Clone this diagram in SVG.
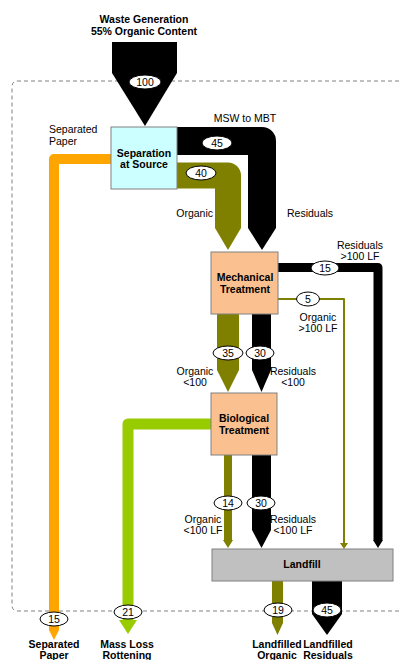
<svg xmlns="http://www.w3.org/2000/svg" width="399" height="660" viewBox="0 0 399 660">
<style>
text{font-family:"Liberation Sans",Arial,sans-serif;font-size:10.5px;fill:#000;text-anchor:middle}
.b{font-weight:bold}
.s{text-anchor:start}
.e{text-anchor:end}
.box{stroke:#808080;stroke-width:1}
.band{fill:none;stroke-linejoin:round;stroke-linecap:butt}
.k{stroke:#000}
.ol{stroke:#808000}
.or{stroke:#ffa500}
.gr{stroke:#99cc00}
.fk{fill:#000}
.fol{fill:#808000}
.for{fill:#ffa500}
.fgr{fill:#99cc00}
.ov{fill:#fff;stroke:#000;stroke-width:1}
</style>
<rect width="399" height="660" fill="#fff"/>
<path d="M399,81 H18 Q12,81 12,87 V605 Q12,611 18,611 H399" fill="none" stroke="#808080" stroke-width="1" stroke-dasharray="4 3"/>

<g id="connectors">
  <!-- waste generation input -->
  <rect x="112" y="42" width="65" height="31" class="fk"/>
  <polygon points="112,73 177,73 145,126" class="fk"/>
  <!-- MSW to MBT residuals -->
  <path d="M177,141 H262 V228" class="band k" stroke-width="28"/>
  <polygon points="248,228 276,228 262,250" class="fk"/>
  <!-- organic from source -->
  <path d="M177,175.5 H228 V228" class="band ol" stroke-width="26"/>
  <polygon points="215,228 241,228 228,250" class="fol"/>
  <!-- separated paper -->
  <path d="M111,159 H54 V630" class="band or" stroke-width="10"/>
  <polygon points="49,630 59,630 54,640" class="for"/>
  <!-- residuals >100 LF -->
  <path d="M278,267.5 H378 V540" class="band k" stroke-width="9"/>
  <polygon points="373,540 383,540 378,548" class="fk"/>
  <!-- organic >100 LF -->
  <path d="M278,299 H344 V543" class="band ol" stroke-width="2"/>
  <polygon points="340,543 348,543 344,549" class="fol"/>
  <!-- mech to bio -->
  <rect x="217" y="314" width="22" height="56" class="fol"/>
  <polygon points="217,370 239,370 228,392" class="fol"/>
  <rect x="252" y="314" width="19" height="56" class="fk"/>
  <polygon points="252,370 271,370 261.5,392" class="fk"/>
  <!-- mass loss -->
  <path d="M211,424 H128 V621" class="band gr" stroke-width="11"/>
  <polygon points="119,620 137,620 128,634" class="fgr"/>
  <!-- bio to landfill -->
  <rect x="224" y="455" width="8" height="85" class="fol"/>
  <polygon points="223,540 233,540 228,548" class="fol"/>
  <rect x="252" y="455" width="19" height="75" class="fk"/>
  <polygon points="252,530 271,530 261.5,548" class="fk"/>
  <!-- landfill outputs -->
  <rect x="272" y="581" width="11" height="42" class="fol"/>
  <polygon points="272,623 283,623 277.5,635" class="fol"/>
  <rect x="312" y="581" width="30" height="33" class="fk"/>
  <polygon points="312,614 342,614 327,635" class="fk"/>

  <!-- value ovals -->
  <ellipse cx="145" cy="82" rx="16" ry="7" class="ov"/><text x="145" y="86">100</text>
  <ellipse cx="217" cy="143" rx="15" ry="7" class="ov"/><text x="217" y="147">45</text>
  <ellipse cx="201" cy="173" rx="15" ry="7" class="ov"/><text x="201" y="177">40</text>
  <ellipse cx="325" cy="268" rx="14" ry="7" class="ov"/><text x="325" y="272">15</text>
  <ellipse cx="308" cy="299" rx="11.5" ry="7" class="ov"/><text x="308" y="303">5</text>
  <ellipse cx="228" cy="353" rx="15" ry="7" class="ov"/><text x="228" y="357">35</text>
  <ellipse cx="260" cy="353" rx="14" ry="7" class="ov"/><text x="260" y="357">30</text>
  <ellipse cx="228" cy="503" rx="14" ry="7" class="ov"/><text x="228" y="507">14</text>
  <ellipse cx="261" cy="503" rx="14" ry="7" class="ov"/><text x="261" y="507">30</text>
  <ellipse cx="54" cy="619" rx="14" ry="7" class="ov"/><text x="54" y="623">15</text>
  <ellipse cx="128" cy="612" rx="14" ry="7" class="ov"/><text x="128" y="616">21</text>
  <ellipse cx="278" cy="610" rx="14" ry="7" class="ov"/><text x="278" y="614">19</text>
  <ellipse cx="327" cy="610" rx="14" ry="7" class="ov"/><text x="327" y="614">45</text>

  <!-- flow labels -->
  <text x="49" y="133" class="s">Separated</text>
  <text x="49" y="145" class="s">Paper</text>
  <text x="245" y="122">MSW to MBT</text>
  <text x="213" y="217" class="e">Organic</text>
  <text x="287" y="217" class="s">Residuals</text>
  <text x="360" y="249">Residuals</text>
  <text x="360" y="260">&gt;100 LF</text>
  <text x="318" y="321">Organic</text>
  <text x="318" y="332">&gt;100 LF</text>
  <text x="195" y="375">Organic</text>
  <text x="195" y="386">&lt;100</text>
  <text x="293" y="375">Residuals</text>
  <text x="293" y="386">&lt;100</text>
  <text x="203" y="523">Organic</text>
  <text x="203" y="534">&lt;100 LF</text>
  <text x="293" y="523">Residuals</text>
  <text x="293" y="534">&lt;100 LF</text>
</g>

<g id="waste-generation">
  <text x="144" y="23" class="b">Waste Generation</text>
  <text x="144" y="35" class="b">55% Organic Content</text>
</g>
<g id="separation-at-source">
  <rect x="111" y="127" width="66" height="62" fill="#ccffff" class="box"/>
  <text x="144" y="157" class="b">Separation</text>
  <text x="144" y="168" class="b">at Source</text>
</g>
<g id="mechanical-treatment">
  <rect x="211" y="252" width="67" height="62" fill="#fac090" class="box"/>
  <text x="245" y="281" class="b">Mechanical</text>
  <text x="245" y="293" class="b">Treatment</text>
</g>
<g id="biological-treatment">
  <rect x="211" y="393" width="66" height="62" fill="#fac090" class="box"/>
  <text x="244" y="422" class="b">Biological</text>
  <text x="244" y="434" class="b">Treatment</text>
</g>
<g id="landfill">
  <rect x="212" y="549" width="181" height="32" fill="#c0c0c0" class="box"/>
  <text x="302" y="568" class="b">Landfill</text>
</g>
<g id="outputs">
  <text x="54" y="648" class="b">Separated</text>
  <text x="54" y="659" class="b">Paper</text>
  <text x="127" y="648" class="b">Mass Loss</text>
  <text x="127" y="659" class="b">Rottening</text>
  <text x="277" y="648" class="b">Landfilled</text>
  <text x="277" y="659" class="b">Organic</text>
  <text x="328" y="648" class="b">Landfilled</text>
  <text x="328" y="659" class="b">Residuals</text>
</g>
</svg>
